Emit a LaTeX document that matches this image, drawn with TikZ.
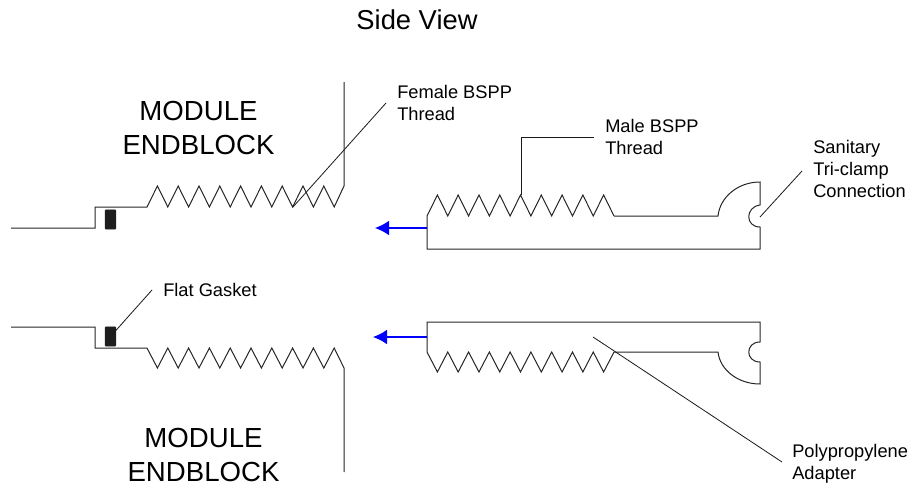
\documentclass[tikz,border=0pt]{standalone}
\usepackage{fontspec}
\setmainfont{Liberation Sans}
\usepackage{xcolor}
\usetikzlibrary{
    arrows.meta,
    calc
}
\definecolor{gasketBlack}{RGB}{30, 30, 30}
\tikzset{
    partline/.style={draw=black!85, line width=0.75pt},
    leader/.style={draw=black!90, line width=0.6pt},
    flowarrow/.style={draw=blue, line width=1pt, -{Latex[length=10.5pt,width=11pt]}},
    gasket/.style={fill=gasketBlack, draw=gasketBlack, rounded corners=0.5pt, line width=0.3pt},
    smalltext/.style={font=\fontsize{13.7}{16.5}\selectfont, align=left, anchor=north west, inner sep=0pt},
    bigtext/.style={font=\fontsize{20.7}{25}\selectfont, align=center, inner sep=0pt}
}
\begin{document}
\begin{tikzpicture}[x=0.75pt,y=-0.75pt]
    \useasboundingbox (0,0) rectangle (909,485);
    % title and block names
    \node[font=\fontsize{20.5}{24}\selectfont, inner sep=0pt] (title) at (417,19.5) {Side View};
    \node[bigtext] (upperblock) at (198.5,128) {MODULE\\ENDBLOCK};
    \node[bigtext] (lowerblock) at (203.5,455) {MODULE\\ENDBLOCK};

    % upper endblock
    \coordinate (UA) at (11,228);
    \coordinate (UB) at (95,228);
    \coordinate (UC) at (95,207);
    \coordinate (UD) at (147,207);
    \coordinate (UE) at (344,186);
    \coordinate (UF) at (344,82);
    \draw[partline] (UA)--(UB)--(UC)--(UD)
        \foreach \i in {0,...,8} {-- ++(10.4,-21) -- ++(10.4,21)}
        --(UE)--(UF);
    \node[gasket, minimum width=8pt, minimum height=14.5pt, inner sep=0pt] (uppergasket) at (110.5,219.5) {};

    % lower endblock
    \coordinate (LA) at (11,327);
    \coordinate (LB) at (95,327);
    \coordinate (LC) at (95,348);
    \coordinate (LD) at (147,348);
    \coordinate (LE) at (344,368);
    \coordinate (LF) at (344,472);
    \draw[partline] (LA)--(LB)--(LC)--(LD)
        \foreach \i in {0,...,8} {-- ++(10.4,20) -- ++(10.4,-20)}
        --(LE)--(LF);
    \node[gasket, minimum width=8pt, minimum height=14.5pt, inner sep=0pt] (lowergasket) at (110.5,336.5) {};

    % upper adapter
    \coordinate (PA) at (427,216);
    \coordinate (PB) at (614,216);
    \coordinate (PC) at (718,216);
    \coordinate (PD) at (760,182);
    \coordinate (PE) at (760,205);
    \coordinate (PF) at (760,227);
    \coordinate (PG) at (760,249);
    \coordinate (PH) at (427,249);
    \draw[partline] (PA)
        \foreach \i in {0,...,8} {-- ++(10.39,-21) -- ++(10.39,21)}
        --(PB)--(PC) .. controls (720,197) and (738,182) .. (PD)
        --(PE) .. controls (745,207) and (745,227) .. (PF)--(PG)--(PH)--cycle;
    \coordinate (upperflow) at (427,228);
    \coordinate (upperflowend) at (375,228);
    \draw[flowarrow] (upperflow)--(upperflowend);

    % lower adapter
    \coordinate (QA) at (427,352);
    \coordinate (QB) at (614,352);
    \coordinate (QC) at (718,352);
    \coordinate (QD) at (760,384);
    \coordinate (QE) at (760,362);
    \coordinate (QF) at (760,342);
    \coordinate (QG) at (760,322);
    \coordinate (QH) at (427,322);
    \draw[partline] (QA)
        \foreach \i in {0,...,8} {-- ++(10.39,20) -- ++(10.39,-20)}
        --(QB)--(QC) .. controls (720,370) and (738,384) .. (QD)
        --(QE) .. controls (745,362) and (745,342) .. (QF)--(QG)--(QH)--cycle;
    \coordinate (lowerflow) at (427,337);
    \coordinate (lowerflowend) at (373,337);
    \draw[flowarrow] (lowerflow)--(lowerflowend);

    % labels
    \node[smalltext] (female) at (397,85) {Female BSPP\\Thread};
    \node[smalltext] (male) at (605,119) {Male BSPP\\Thread};
    \node[smalltext] (sanitary) at (813,140) {Sanitary\\Tri-clamp\\Connection};
    \node[smalltext] (flat) at (163,283) {Flat Gasket};
    \node[smalltext] (poly) at (792,444) {Polypropylene\\Adapter};

    % leaders
    \coordinate (femaleend) at (293,207);
    \coordinate (femalefree) at (386,103);
    \coordinate (maleend) at (521,195);
    \coordinate (malebend) at (521,137);
    \coordinate (malefree) at (594,137);
    \coordinate (sanitaryend) at (760,217);
    \coordinate (sanitaryfree) at (802,171);
    \coordinate (flatfree) at (152,290);
    \coordinate (polyend) at (593,337);
    \coordinate (polyfree) at (782,462);
    \draw[leader] (femaleend)--(femalefree);
    \draw[leader] (maleend)--(malebend)--(malefree);
    \draw[leader] (sanitaryend)--(sanitaryfree);
    \draw[leader] (lowergasket.center)--(flatfree);
    \draw[leader] (polyend)--(polyfree);
\end{tikzpicture}
\end{document}
